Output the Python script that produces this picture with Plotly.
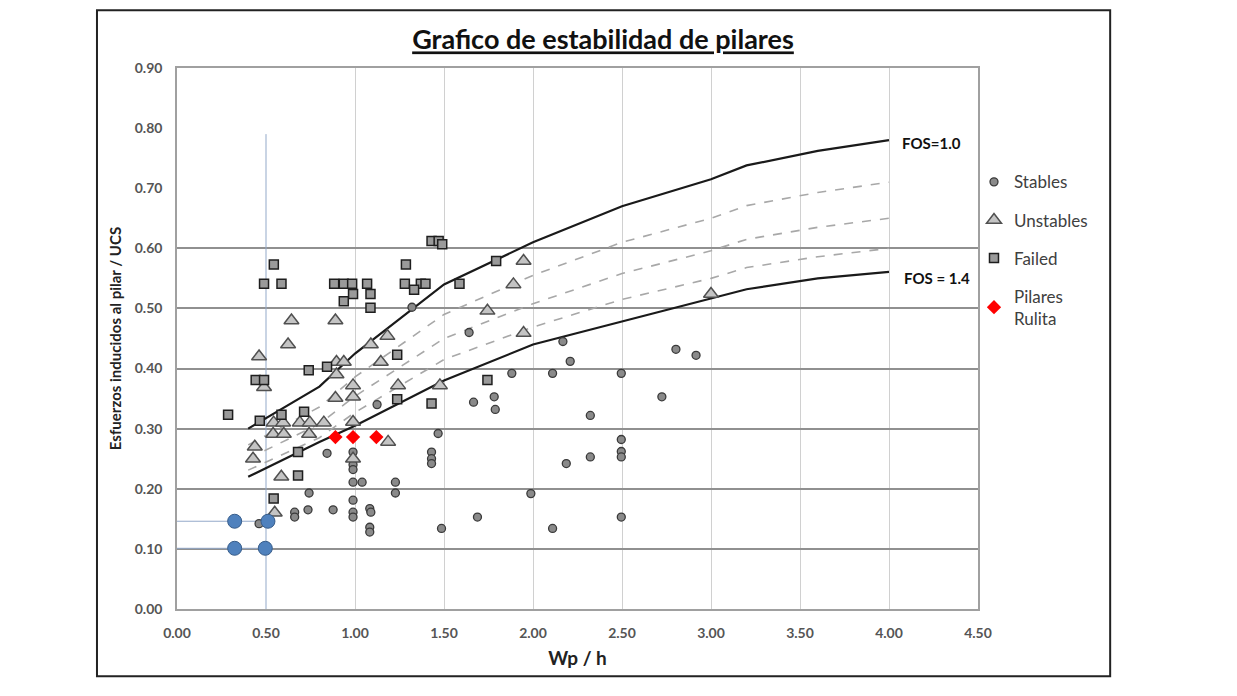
import plotly.graph_objects as go

# ---------------- data ----------------
stable_x = [1.32, 1.124, 0.843, 0.989, 0.989, 0.989, 0.989, 0.989, 1.04, 1.227, 1.227, 0.742,
            0.989, 0.989, 0.989, 0.877, 0.736, 0.661, 0.661, 1.083, 1.089, 1.083, 1.083, 0.461,
            1.43, 1.43, 1.43, 1.467, 1.486, 1.641, 2.168, 2.209, 2.803, 2.916, 1.881, 2.11,
            2.496, 1.666, 1.782, 1.788, 2.724, 2.322, 2.496, 2.496, 2.496, 2.322, 2.187, 1.988,
            1.688, 2.496, 2.11]
stable_y = [0.502, 0.340, 0.259, 0.261, 0.247, 0.240, 0.232, 0.211, 0.211, 0.211, 0.193, 0.193,
            0.181, 0.161, 0.153, 0.165, 0.165, 0.161, 0.153, 0.167, 0.161, 0.136, 0.128, 0.142,
            0.261, 0.250, 0.242, 0.292, 0.134, 0.460, 0.445, 0.412, 0.432, 0.422, 0.392, 0.392,
            0.392, 0.344, 0.353, 0.332, 0.353, 0.322, 0.282, 0.262, 0.253, 0.253, 0.242, 0.192,
            0.153, 0.153, 0.134]

unstable_x = [0.643, 0.890, 0.624, 0.461, 1.182, 1.089, 1.145, 0.896, 0.937, 0.896, 0.489, 0.989,
              1.242, 1.477, 0.890, 0.989, 0.543, 0.596, 0.690, 0.746, 0.825, 0.989, 0.540, 0.600,
              0.742, 0.437, 0.427, 0.989, 1.186, 0.586, 0.549, 1.947, 1.890, 1.744, 1.947, 3.000]
unstable_y = [0.480, 0.480, 0.440, 0.420, 0.454, 0.440, 0.411, 0.411, 0.411, 0.390, 0.369, 0.372,
              0.372, 0.372, 0.351, 0.353, 0.310, 0.310, 0.310, 0.310, 0.310, 0.311, 0.291, 0.291,
              0.291, 0.270, 0.250, 0.250, 0.278, 0.220, 0.160, 0.579, 0.540, 0.496, 0.459, 0.524]

failed_x = [1.43, 1.47, 1.49, 0.544, 1.286, 0.489, 0.587, 0.883, 0.937, 0.984, 1.068, 1.28, 1.37,
            1.396, 1.332, 0.989, 1.087, 0.937, 1.087, 1.237, 0.740, 0.843, 0.442, 0.489, 1.43,
            1.237, 0.287, 0.587, 0.714, 0.465, 0.680, 0.680, 0.543, 1.793, 1.587, 1.744]
failed_y = [0.612, 0.612, 0.607, 0.573, 0.573, 0.541, 0.541, 0.541, 0.541, 0.541, 0.541, 0.541, 0.541,
            0.541, 0.531, 0.524, 0.524, 0.512, 0.501, 0.423, 0.397, 0.403, 0.381, 0.381, 0.342,
            0.349, 0.323, 0.323, 0.328, 0.313, 0.261, 0.222, 0.184, 0.579, 0.541, 0.381]

rulita_x = [0.890, 0.989, 1.120]
rulita_y = [0.286, 0.286, 0.286]

blue_x = [0.324, 0.511, 0.324, 0.496]
blue_y = [0.146, 0.146, 0.101, 0.101]

# reference guide lines (blue)
guide_v_x = [0.5, 0.5]
guide_v_y = [0.0, 0.79]
guide_h1_x = [0.0, 0.511]
guide_h1_y = [0.146, 0.146]
guide_h2_x = [0.0, 0.496]
guide_h2_y = [0.101, 0.101]

# FOS curves
curve_x = [0.4, 0.8, 1.0, 1.5, 2.0, 2.5, 3.0, 3.2, 3.6, 4.0]
fos10_y = [0.300, 0.370, 0.425, 0.540, 0.610, 0.670, 0.715, 0.738, 0.762, 0.780]
fos11_y = [0.273, 0.336, 0.386, 0.490, 0.555, 0.610, 0.650, 0.671, 0.693, 0.710]
fos12_y = [0.250, 0.308, 0.354, 0.450, 0.508, 0.558, 0.596, 0.615, 0.635, 0.650]
fos13_y = [0.231, 0.285, 0.327, 0.415, 0.469, 0.515, 0.550, 0.568, 0.586, 0.600]
fos14_y = [0.220, 0.278, 0.305, 0.380, 0.440, 0.478, 0.517, 0.532, 0.550, 0.561]

x_ticks = [0.0, 0.5, 1.0, 1.5, 2.0, 2.5, 3.0, 3.5, 4.0, 4.5]
y_ticks = [0.0, 0.1, 0.2, 0.3, 0.4, 0.5, 0.6, 0.7, 0.8, 0.9]
x_grid = [1.0, 1.5, 2.0, 2.5, 3.0, 3.5, 4.0]
y_grid = [0.1, 0.2, 0.3, 0.4, 0.5, 0.6]

FONT = "Lato"

fig = go.Figure()

# guides
for gx, gy in [(guide_v_x, guide_v_y), (guide_h1_x, guide_h1_y), (guide_h2_x, guide_h2_y)]:
    fig.add_trace(go.Scatter(x=gx, y=gy, mode="lines", line=dict(color="#93a9c9", width=1),
                             showlegend=False, hoverinfo="skip"))

# curves
for cy, dash, col, w in [(fos11_y, "dash", "#a8a8a8", 1.6), (fos12_y, "dash", "#a8a8a8", 1.6),
                         (fos13_y, "dash", "#a8a8a8", 1.6),
                         (fos10_y, "solid", "#1a1a1a", 2.2), (fos14_y, "solid", "#1a1a1a", 2.2)]:
    fig.add_trace(go.Scatter(x=curve_x, y=cy, mode="lines",
                             line=dict(color=col, width=w, dash=dash),
                             showlegend=False, hoverinfo="skip"))

fig.add_trace(go.Scatter(x=stable_x, y=stable_y, mode="markers", name="Stables", legendgroup="a",
                         marker=dict(symbol="circle", size=8, color="#8a8a8a",
                                     line=dict(color="#3a3a3a", width=1.3))))
fig.add_trace(go.Scatter(x=unstable_x, y=unstable_y, mode="markers", name="Unstables", legendgroup="b",
                         marker=dict(symbol="triangle-up", size=13, color="#c4c4c4",
                                     line=dict(color="#505050", width=1.5))))
fig.add_trace(go.Scatter(x=failed_x, y=failed_y, mode="markers", name="Failed", legendgroup="c",
                         marker=dict(symbol="square", size=9, color="#9a9a9a",
                                     line=dict(color="#1e1e1e", width=1.5))))
fig.add_trace(go.Scatter(x=rulita_x, y=rulita_y, mode="markers", name="Pilares<br>Rulita", legendgroup="d",
                         marker=dict(symbol="diamond", size=11, color="#ff0000",
                                     line=dict(color="#ff0000", width=0))))
fig.add_trace(go.Scatter(x=blue_x, y=blue_y, mode="markers", showlegend=False,
                         marker=dict(symbol="circle", size=14, color="#4f81bd",
                                     line=dict(color="#385d8a", width=1))))

# FOS labels
fig.add_annotation(x=4.0, y=0.78, text="<b>FOS=1.0</b>", showarrow=False, xanchor="left",
                   xshift=11, yshift=-3, font=dict(family=FONT, size=15, color="#111"))
fig.add_annotation(x=4.0, y=0.561, text="<b>FOS = 1.4</b>", showarrow=False, xanchor="left",
                   xshift=13, yshift=-6, font=dict(family=FONT, size=15, color="#111"))

# outer frame
fig.add_shape(type="rect", xref="paper", yref="paper", x0=-0.0999, x1=1.165, y0=-0.1244, y1=1.1066,
              line=dict(color="#222", width=2), fillcolor="rgba(0,0,0,0)", layer="below")

fig.update_layout(
    width=1237, height=696,
    margin=dict(l=169, r=267, t=60, b=95),
    paper_bgcolor="white", plot_bgcolor="white",
    font=dict(family=FONT, color="#404040"),
    title=dict(text="<b>Grafico de estabilidad de pilares</b>", x=595 / 1237, xanchor="center",
               y=1 - 32 / 696, yanchor="middle",
               font=dict(family=FONT, size=27, color="#111", lineposition="under")),
    legend=dict(x=0.995, y=0.822, xanchor="left", yanchor="top", tracegroupgap=13,
                font=dict(family=FONT, size=17, color="#404040"), bgcolor="rgba(0,0,0,0)"),
    showlegend=True,
)
fig.update_xaxes(range=[0, 4.5], tickvals=x_ticks, tickformat=".2f", showgrid=False,
                 showline=True, linecolor="#a0a0a0", linewidth=1.5, mirror=True, zeroline=False,
                 ticks="", ticklabelstandoff=10,
                 tickfont=dict(family=FONT, size=14, color="#555555", weight="bold"),
                 minor=dict(tickvals=x_grid, showgrid=True, gridcolor="#d0d0d0", gridwidth=1, ticks=""),
                 title=dict(text="<b>Wp / h</b>", font=dict(family=FONT, size=19, color="#222"), standoff=12))
fig.update_yaxes(range=[0, 0.9], tickvals=y_ticks, tickformat=".2f", showgrid=False,
                 showline=True, linecolor="#a0a0a0", linewidth=1.5, mirror=True, zeroline=False,
                 ticks="", ticklabelstandoff=10,
                 tickfont=dict(family=FONT, size=14, color="#555555", weight="bold"),
                 minor=dict(tickvals=y_grid, showgrid=True, gridcolor="#909090", gridwidth=2, ticks=""),
                 title=dict(text="<b>Esfuerzos inducidos al pilar / UCS</b>",
                            font=dict(family=FONT, size=15, color="#222"), standoff=10))

fig.write_html("out.html")
